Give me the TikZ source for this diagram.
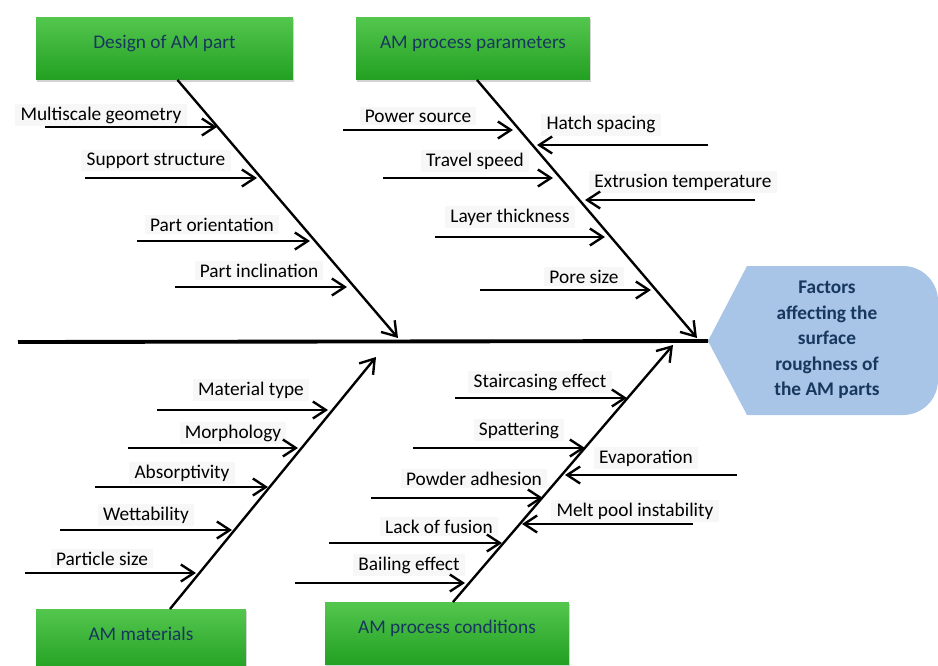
\documentclass[tikz,border=0pt]{standalone}
\usepackage{fontspec}
\setmainfont{Carlito}
\usetikzlibrary{arrows.meta,calc,shadows}

\definecolor{boxtop}{RGB}{84,198,78}
\definecolor{boxbot}{RGB}{34,160,34}
\definecolor{navytxt}{RGB}{23,55,94}
\definecolor{headfill}{RGB}{168,196,230}

\tikzset{
	catbox/.style={top color=boxtop, bottom color=boxbot, minimum height=1.26cm, outer sep=0pt,
		text=navytxt, font=\fontsize{11}{13}\selectfont, text height=7pt, text depth=7pt,
		drop shadow={opacity=0.35, shadow xshift=0.6pt, shadow yshift=-1pt}},
	bone/.style={line width=1.35pt, -{Straight Barb[length=2.7mm,width=3.6mm]}},
	cause/.style={line width=1.35pt, -{Straight Barb[length=2.6mm,width=3.4mm]}},
	spine/.style={line width=2.2pt},
	lbl/.style={anchor=base, fill=black!3, inner xsep=3pt, inner ysep=1.5pt, font=\fontsize{11}{13}\selectfont},
	headtxt/.style={align=center, text=navytxt, font=\fontsize{11}{14.5}\selectfont\bfseries},
}

\begin{document}
\begin{tikzpicture}[x=0.02cm, y=-0.02cm]
			%%%%% START %%%%%
			\useasboundingbox (0,0) rectangle (938,666);
			
			% head
			\coordinate (tip) at (708,341);
			\coordinate (tail) at (18,342);
			\fill[headfill] (tip) -- (747,266) -- (903,266) arc[start angle=-90, end angle=0, radius=35]
				-- (938,380) arc[start angle=0, end angle=90, radius=35] -- (747,415) -- cycle;
			\node[headtxt] (head) at (827,340) {Factors\\affecting the\\surface\\roughness of\\the AM parts};
			\draw[spine] (tail) -- (tip);
			
			% categories
			\node[catbox, minimum width=5.14cm] (design) at (164.5,48.5) {Design of AM part};
			\node[catbox, minimum width=4.68cm] (params) at (473,48.5) {AM process parameters};
			\node[catbox, minimum width=4.2cm] (materials) at (141,640.5) {AM materials};
			\node[catbox, minimum width=4.88cm] (conditions) at (447,633.5) {AM process conditions};
			
			\coordinate (j1) at (398,338);
			\coordinate (j2) at (697,338);
			\coordinate (j3) at (376,357);
			\coordinate (j4) at (673,345);
			\draw[bone] ($(design.south)+(13,0)$) -- (j1);
			\draw[bone] ($(params.south)+(4,0)$) -- (j2);
			\draw[bone] ($(materials.north)+(29,0)$) -- (j3);
			\draw[bone] ($(conditions.north)+(6,0)$) -- (j4);
			
			% design of AM part
			\node[lbl] (mg) at (101,120) {Multiscale geometry};
			\node[lbl] (ss) at (156,165) {Support structure};
			\node[lbl] (po) at (212,231) {Part orientation};
			\node[lbl] (pi) at (259,277) {Part inclination};
			\coordinate (mg0) at (45,127);  \coordinate (mg1) at (217,127);
			\coordinate (ss0) at (85,178);  \coordinate (ss1) at (257,178);
			\coordinate (po0) at (137,241); \coordinate (po1) at (310,241);
			\coordinate (pi0) at (175,287); \coordinate (pi1) at (347,287);
			\draw[cause] (mg0) -- (mg1);
			\draw[cause] (ss0) -- (ss1);
			\draw[cause] (po0) -- (po1);
			\draw[cause] (pi0) -- (pi1);
			
			% AM process parameters
			\node[lbl] (ps) at (418,122) {Power source};
			\node[lbl] (hs) at (601,130) {Hatch spacing};
			\node[lbl] (ts) at (475,166) {Travel speed};
			\node[lbl] (et) at (683,187) {Extrusion temperature};
			\node[lbl] (lt) at (510,222) {Layer thickness};
			\node[lbl] (pz) at (584,283) {Pore size};
			\coordinate (ps0) at (343,130); \coordinate (ps1) at (513,130);
			\coordinate (hs0) at (708,145); \coordinate (hs1) at (537,145);
			\coordinate (ts0) at (383,178); \coordinate (ts1) at (553,178);
			\coordinate (et0) at (755,200); \coordinate (et1) at (585,200);
			\coordinate (lt0) at (435,237); \coordinate (lt1) at (605,237);
			\coordinate (pz0) at (480,290); \coordinate (pz1) at (651,290);
			\draw[cause] (ps0) -- (ps1);
			\draw[cause] (hs0) -- (hs1);
			\draw[cause] (ts0) -- (ts1);
			\draw[cause] (et0) -- (et1);
			\draw[cause] (lt0) -- (lt1);
			\draw[cause] (pz0) -- (pz1);
			
			% AM materials
			\node[lbl] (mt) at (251,395) {Material type};
			\node[lbl] (mo) at (233,438) {Morphology};
			\node[lbl] (ab) at (182,478) {Absorptivity};
			\node[lbl] (wt) at (146,520) {Wettability};
			\node[lbl] (ps2) at (102,565) {Particle size};
			\coordinate (mt0) at (157,410); \coordinate (mt1) at (328,410);
			\coordinate (mo0) at (128,448); \coordinate (mo1) at (298,448);
			\coordinate (ab0) at (95,487);  \coordinate (ab1) at (268,487);
			\coordinate (wt0) at (60,530);  \coordinate (wt1) at (232,530);
			\coordinate (pa0) at (25,573);  \coordinate (pa1) at (196,573);
			\draw[cause] (mt0) -- (mt1);
			\draw[cause] (mo0) -- (mo1);
			\draw[cause] (ab0) -- (ab1);
			\draw[cause] (wt0) -- (wt1);
			\draw[cause] (pa0) -- (pa1);
			
			% AM process conditions
			\node[lbl] (se) at (540,387) {Staircasing effect};
			\node[lbl] (sp) at (519,435) {Spattering};
			\node[lbl] (ev) at (646,463) {Evaporation};
			\node[lbl] (ad) at (474,485) {Powder adhesion};
			\node[lbl] (mp) at (635,516) {Melt pool instability};
			\node[lbl] (lf) at (439,533) {Lack of fusion};
			\node[lbl] (be) at (409,570) {Bailing effect};
			\coordinate (se0) at (455,398); \coordinate (se1) at (627,398);
			\coordinate (sp0) at (413,448); \coordinate (sp1) at (585,448);
			\coordinate (ev0) at (737,475); \coordinate (ev1) at (565,475);
			\coordinate (ad0) at (371,498); \coordinate (ad1) at (543,498);
			\coordinate (mp0) at (693,524); \coordinate (mp1) at (522,524);
			\coordinate (lf0) at (329,543); \coordinate (lf1) at (502,543);
			\coordinate (be0) at (295,583); \coordinate (be1) at (465,583);
			\draw[cause] (se0) -- (se1);
			\draw[cause] (sp0) -- (sp1);
			\draw[cause] (ev0) -- (ev1);
			\draw[cause] (ad0) -- (ad1);
			\draw[cause] (mp0) -- (mp1);
			\draw[cause] (lf0) -- (lf1);
			\draw[cause] (be0) -- (be1);
			
			%%%%% END %%%%%
\end{tikzpicture}
\end{document}
